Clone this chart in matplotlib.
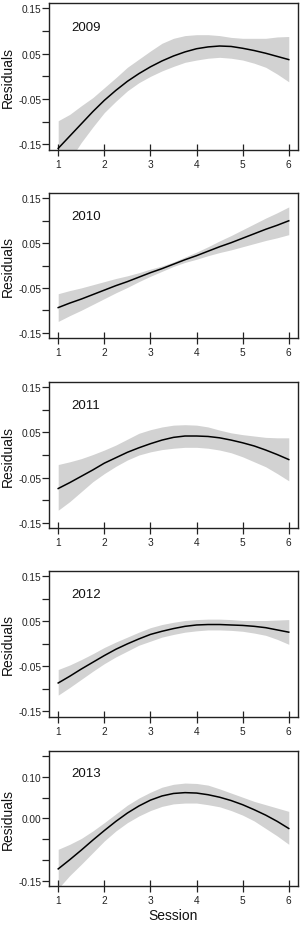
import matplotlib.pyplot as plt

plt.rcParams['font.family'] = ['Liberation Sans', 'DejaVu Sans']

session = [1, 1.25, 1.5, 1.75, 2, 2.25, 2.5, 2.75, 3, 3.25, 3.5,
           3.75, 4, 4.25, 4.5, 4.75, 5, 5.25, 5.5, 5.75, 6]
years = ["2009", "2010", "2011", "2012", "2013"]

fit_2009 = [-0.159, -0.132, -0.105, -0.078, -0.053, -0.031, -0.011, 0.006, 0.021, 0.034, 0.045,
            0.054, 0.061, 0.065, 0.067, 0.066, 0.062, 0.057, 0.051, 0.044, 0.037]
upr_2009 = [-0.098, -0.084, -0.065, -0.047, -0.025, -0.003, 0.020, 0.038, 0.056, 0.073, 0.084,
            0.090, 0.092, 0.092, 0.090, 0.086, 0.084, 0.084, 0.084, 0.087, 0.088]
lwr_2009 = [-0.215, -0.185, -0.146, -0.112, -0.080, -0.055, -0.032, -0.014, 0.000, 0.012, 0.022,
            0.031, 0.036, 0.040, 0.042, 0.040, 0.036, 0.029, 0.020, 0.005, -0.012]

fit_2010 = [-0.094, -0.084, -0.075, -0.065, -0.055, -0.045, -0.036, -0.026, -0.016, -0.007, 0.003,
            0.013, 0.022, 0.032, 0.042, 0.051, 0.061, 0.071, 0.081, 0.090, 0.100]
upr_2010 = [-0.063, -0.056, -0.050, -0.043, -0.036, -0.029, -0.023, -0.016, -0.008, -0.001, 0.008,
            0.019, 0.030, 0.042, 0.055, 0.067, 0.080, 0.093, 0.106, 0.118, 0.131]
lwr_2010 = [-0.125, -0.112, -0.100, -0.087, -0.074, -0.061, -0.049, -0.036, -0.024, -0.013, -0.002,
            0.007, 0.014, 0.022, 0.029, 0.035, 0.042, 0.049, 0.056, 0.062, 0.069]

fit_2011 = [-0.074, -0.061, -0.047, -0.033, -0.018, -0.006, 0.006, 0.016, 0.025, 0.033, 0.039,
            0.042, 0.042, 0.041, 0.038, 0.033, 0.027, 0.020, 0.011, 0.001, -0.010]
upr_2011 = [-0.021, -0.015, -0.008, 0.001, 0.011, 0.022, 0.035, 0.048, 0.056, 0.062, 0.066,
            0.067, 0.066, 0.062, 0.055, 0.049, 0.045, 0.042, 0.039, 0.038, 0.038]
lwr_2011 = [-0.122, -0.103, -0.081, -0.059, -0.041, -0.025, -0.011, 0.000, 0.007, 0.012, 0.015,
            0.017, 0.017, 0.015, 0.011, 0.005, -0.004, -0.015, -0.026, -0.041, -0.057]

fit_2012 = [-0.087, -0.072, -0.056, -0.041, -0.026, -0.012, 0.000, 0.011, 0.021, 0.028, 0.034,
            0.039, 0.042, 0.043, 0.043, 0.042, 0.041, 0.039, 0.036, 0.031, 0.026]
upr_2012 = [-0.057, -0.047, -0.035, -0.022, -0.008, 0.004, 0.015, 0.026, 0.036, 0.043, 0.048,
            0.052, 0.054, 0.055, 0.055, 0.054, 0.052, 0.052, 0.052, 0.053, 0.054]
lwr_2012 = [-0.114, -0.097, -0.079, -0.061, -0.044, -0.029, -0.016, -0.003, 0.006, 0.015, 0.021,
            0.026, 0.029, 0.031, 0.031, 0.030, 0.028, 0.024, 0.019, 0.010, -0.001]

fit_2013 = [-0.121, -0.099, -0.076, -0.052, -0.029, -0.007, 0.013, 0.030, 0.044, 0.054, 0.060,
            0.062, 0.061, 0.057, 0.051, 0.043, 0.033, 0.021, 0.008, -0.007, -0.024]
upr_2013 = [-0.074, -0.062, -0.048, -0.030, -0.010, 0.011, 0.032, 0.049, 0.063, 0.075, 0.082,
            0.085, 0.084, 0.080, 0.071, 0.061, 0.051, 0.041, 0.033, 0.025, 0.017]
lwr_2013 = [-0.168, -0.137, -0.110, -0.082, -0.054, -0.030, -0.010, 0.006, 0.019, 0.029, 0.035,
            0.037, 0.037, 0.033, 0.028, 0.019, 0.008, -0.006, -0.024, -0.042, -0.062]

fits = [fit_2009, fit_2010, fit_2011, fit_2012, fit_2013]
uprs = [upr_2009, upr_2010, upr_2011, upr_2012, upr_2013]
lwrs = [lwr_2009, lwr_2010, lwr_2011, lwr_2012, lwr_2013]

yticks = [-0.15, -0.10, -0.05, 0.00, 0.05, 0.10, 0.15]
labels_a = ["-0.15", "", "-0.05", "", "0.05", "", "0.15"]
labels_b = ["-0.15", "", "", "0.00", "", "0.10", ""]

# panel boxes (bottom, height) in figure fraction
boxes = [(0.8376, 0.1581), (0.6347, 0.1562), (0.4296, 0.1580),
         (0.2266, 0.1570), (0.0442, 0.1455)]

fig = plt.figure(figsize=(3, 9.28), dpi=100)

for k in range(5):
    b, h = boxes[k]
    ax = fig.add_axes([0.1633, b, 0.83, h])
    ax.fill_between(session, lwrs[k], uprs[k], color="#d2d2d2", lw=0)
    ax.plot(session, fits[k], color="black", lw=1.1)
    ax.set_xlim(0.8, 6.2)
    ax.set_ylim(-0.162, 0.162)
    ax.set_xticks([1, 2, 3, 4, 5, 6])
    ax.set_yticks(yticks)
    ax.set_yticklabels(labels_b if k == 4 else labels_a)
    ax.tick_params(axis="x", direction="inout", length=8, width=0.9,
                   labelsize=7.3, pad=2.5, colors="#222222")
    ax.tick_params(axis="y", direction="out", length=4.8, width=0.9,
                   labelsize=7.3, pad=0.8, colors="#222222")
    for s in ax.spines.values():
        s.set_linewidth(1.0)
        s.set_color("#222222")
    ax.text(1.29, 0.11, years[k], fontsize=9.5, ha="left", va="center",
            color="#111111")
    ax.set_ylabel("Residuals", fontsize=10, labelpad=1, color="#111111")
    ax.yaxis.set_label_coords(-0.135, 0.5)
    if k == 4:
        ax.set_xlabel("Session", fontsize=10, labelpad=2, color="#111111")

fig.savefig("out.png", dpi=100)
